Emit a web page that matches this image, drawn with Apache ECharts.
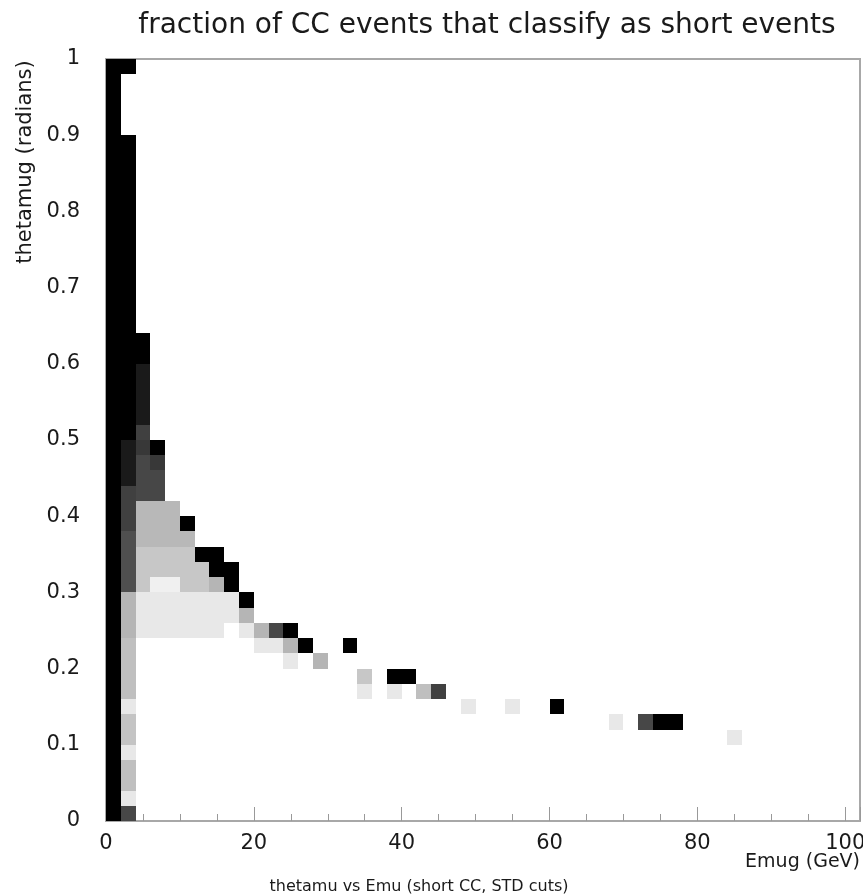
<!DOCTYPE html>
<html>
<head>
<meta charset="utf-8">
<script src="https://cdn.jsdelivr.net/npm/echarts@6/dist/echarts.min.js"></script>
<style>
  html, body { margin: 0; padding: 0; background: #fff; }
  #main { width: 863px; height: 896px; }
</style>
</head>
<body>
<div id="main"></div>
<script>
// bin sizes of the 2D histogram
var binW = 2;      // GeV
var binH = 0.02;   // rad

// fraction per theta bin (0 rad upward, 0.02 rad steps) for the two lowest Emu bins
var col0 = [1,1,1,1,1,1,1,1,1,1, 1,1,1,1,1,1,1,1,1,1,
            1,1,1,1,1,1,1,1,1,1, 1,1,1,1,1,1,1,1,1,1,
            1,1,1,1,1,1,1,1,1,1];
var col1 = [0.72,0.09,0.25,0.25,0.09,0.23,0.23,0.09,0.25,0.25,
            0.25,0.25,0.29,0.29,0.29,0.69,0.69,0.69,0.69,0.75,
            0.75,0.75,0.9,0.9,0.9,1,1,1,1,1,
            1,1,1,1,1,1,1,1,1,1,
            1,1,1,1,1,0,0,0,0,1];

// remaining filled cells: [Emu bin low edge, theta bin low edge, fraction]
var cells = [
  [4,0.24,0.09],[4,0.26,0.09],[4,0.28,0.09],[4,0.30,0.22],[4,0.32,0.22],[4,0.34,0.22],
  [4,0.36,0.28],[4,0.38,0.28],[4,0.40,0.28],[4,0.42,0.72],[4,0.44,0.72],[4,0.46,0.72],
  [4,0.48,0.78],[4,0.50,0.75],[4,0.52,0.9],[4,0.54,0.9],[4,0.56,0.9],[4,0.58,0.9],
  [4,0.60,1],[4,0.62,1],
  [6,0.24,0.09],[6,0.26,0.09],[6,0.28,0.09],[6,0.30,0.06],[6,0.32,0.22],[6,0.34,0.22],
  [6,0.36,0.28],[6,0.38,0.28],[6,0.40,0.28],[6,0.42,0.72],[6,0.44,0.72],[6,0.46,0.78],
  [6,0.48,1],
  [8,0.24,0.09],[8,0.26,0.09],[8,0.28,0.09],[8,0.30,0.06],[8,0.32,0.22],[8,0.34,0.22],
  [8,0.36,0.28],[8,0.38,0.28],[8,0.40,0.28],
  [10,0.24,0.09],[10,0.26,0.09],[10,0.28,0.09],[10,0.30,0.22],[10,0.32,0.22],[10,0.34,0.22],
  [10,0.36,0.28],[10,0.38,1],
  [12,0.24,0.09],[12,0.26,0.09],[12,0.28,0.09],[12,0.30,0.22],[12,0.32,0.22],[12,0.34,1],
  [14,0.24,0.09],[14,0.26,0.09],[14,0.28,0.09],[14,0.30,0.29],[14,0.32,1],[14,0.34,1],
  [16,0.26,0.09],[16,0.28,0.09],[16,0.30,1],[16,0.32,1],
  [18,0.24,0.09],[18,0.26,0.29],[18,0.28,1],
  [20,0.22,0.09],[20,0.24,0.29],
  [22,0.22,0.09],[22,0.24,0.72],
  [24,0.20,0.09],[24,0.22,0.29],[24,0.24,1],
  [26,0.22,1],
  [28,0.20,0.29],
  [32,0.22,1],
  [34,0.16,0.09],[34,0.18,0.22],
  [38,0.16,0.09],[38,0.18,1],
  [40,0.18,1],
  [42,0.16,0.25],
  [44,0.16,0.75],
  [48,0.14,0.09],
  [54,0.14,0.09],
  [60,0.14,1],
  [68,0.12,0.09],
  [72,0.12,0.72],
  [74,0.12,1],
  [76,0.12,1],
  [84,0.10,0.09]
];

var xTicks = [0, 20, 40, 60, 80, 100];
var yTicks = [0, 0.1, 0.2, 0.3, 0.4, 0.5, 0.6, 0.7, 0.8, 0.9, 1];

var data = [];
col0.forEach(function (f, i) { if (f > 0) data.push([0, +(i * binH).toFixed(2), f]); });
col1.forEach(function (f, i) { if (f > 0) data.push([2, +(i * binH).toFixed(2), f]); });
cells.forEach(function (c) { data.push(c); });

var font = 'DejaVu Sans';
var chart = echarts.init(document.getElementById('main'));
var option = {
  backgroundColor: '#ffffff',
  animation: false,
  title: [{
    text: 'fraction of CC events that classify as short events',
    left: 482, top: 7, textAlign: 'center',
    textStyle: { fontFamily: font, fontSize: 28, fontWeight: 'normal', color: '#1a1a1a' }
  }, {
    text: 'thetamu vs Emu (short CC, STD cuts)',
    left: 414, top: 874, textAlign: 'center',
    textStyle: { fontFamily: font, fontSize: 16, fontWeight: 'normal', color: '#1a1a1a' }
  }],
  grid: {
    left: 106, right: 3, top: 59, bottom: 75,
    outerBoundsMode: 'none', containLabel: false,
    show: true, borderColor: '#a8a8a8', borderWidth: 2, backgroundColor: '#fff'
  },
  visualMap: {
    show: false, dimension: 2, min: 0, max: 1, seriesIndex: 0,
    inRange: { color: ['#ffffff', '#000000'] }
  },
  xAxis: [{
    type: 'value', min: 0, max: 102, interval: 20, position: 'bottom',
    axisLine: { show: true, lineStyle: { color: '#a8a8a8', width: 2 } },
    axisTick: { show: true, inside: true, length: 14, lineStyle: { color: '#999' } },
    axisLabel: {
      fontFamily: font, fontSize: 21, color: '#1a1a1a', margin: 12,
      formatter: function (v) { return xTicks.indexOf(v) >= 0 ? String(v) : ''; }
    },
    splitLine: { show: false }
  }, {
    type: 'value', min: 0, max: 102, interval: 5, position: 'bottom',
    axisLine: { show: false },
    axisTick: { show: true, inside: true, length: 7, lineStyle: { color: '#999' } },
    axisLabel: { show: false },
    splitLine: { show: false }
  }],
  yAxis: {
    type: 'value', min: 0, max: 1, interval: 0.1,
    axisLine: { show: false },
    axisTick: { show: false },
    axisLabel: {
      fontFamily: font, fontSize: 21, color: '#1a1a1a', margin: 26,
      formatter: function (v) {
        var r = Math.round(v * 10) / 10;
        return yTicks.indexOf(r) >= 0 ? String(r) : '';
      }
    },
    splitLine: { show: false }
  },
  graphic: [{
    type: 'text', x: 26, y: 162, rotation: Math.PI / 2,
    style: {
      text: 'thetamug (radians)', fontFamily: font, fontSize: 21, fill: '#1a1a1a',
      align: 'center', verticalAlign: 'middle'
    }
  }, {
    type: 'text', x: 860, y: 862,
    style: {
      text: 'Emug (GeV)', fontFamily: font, fontSize: 19, fill: '#1a1a1a',
      align: 'right', verticalAlign: 'middle'
    }
  }],
  series: [{
    type: 'custom',
    xAxisIndex: 0, yAxisIndex: 0,
    encode: { x: 0, y: 1 },
    data: data,
    renderItem: function (params, api) {
      var x = api.value(0), y = api.value(1);
      var p0 = api.coord([x, y + binH]);
      var p1 = api.coord([x + binW, y]);
      var x0 = Math.round(p0[0]), y0 = Math.round(p0[1]);
      var x1 = Math.round(p1[0]), y1 = Math.round(p1[1]);
      return {
        type: 'rect',
        shape: { x: x0, y: y0, width: x1 - x0, height: y1 - y0 },
        style: { fill: api.visual('color') }
      };
    }
  }]
};
chart.setOption(option);
</script>
</body>
</html>
